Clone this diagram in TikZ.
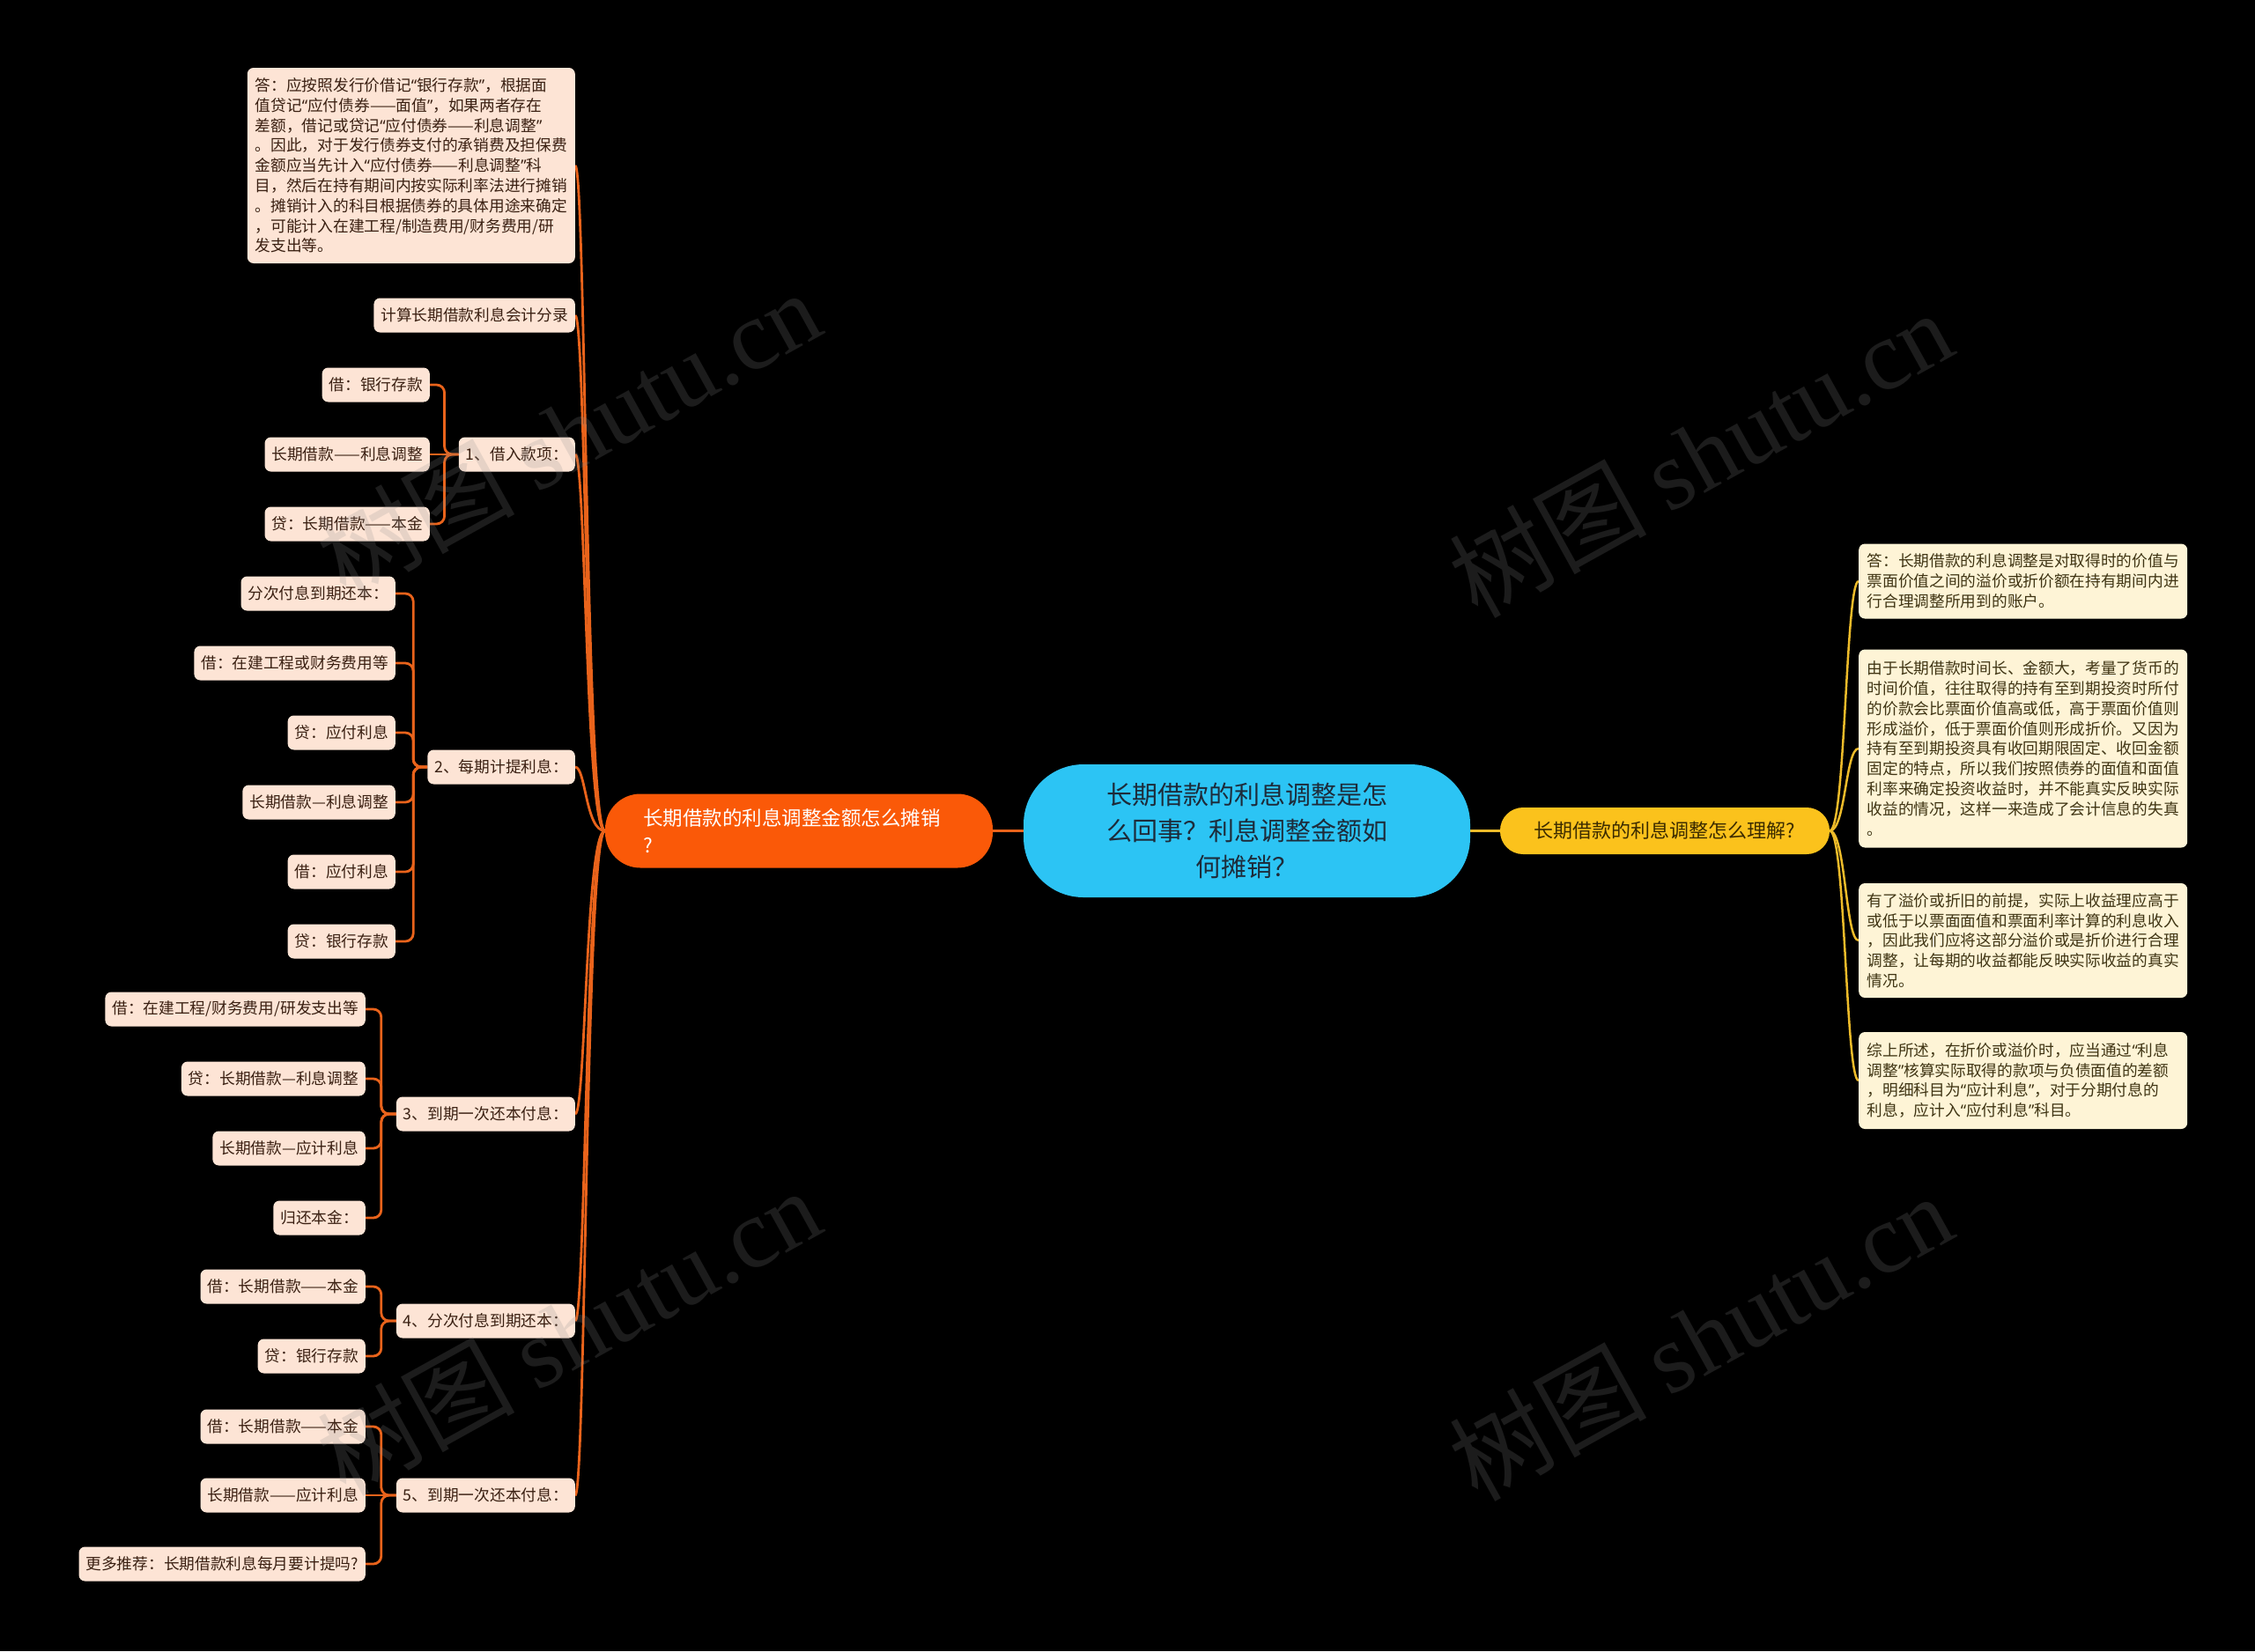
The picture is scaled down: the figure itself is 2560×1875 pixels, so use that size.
\documentclass[tikz,border=0pt]{standalone}
\usepackage{fontspec}
\setmainfont{Noto Sans CJK SC}
\newfontfamily\wmlatin{Liberation Serif}
\newfontfamily\quotefont{Noto Sans}
\newcommand\myqo{{\quotefont “}}
\newcommand\myqc{{\quotefont ”}}
\usetikzlibrary{calc}
\pgfdeclarelayer{bglayer}
\pgfsetlayers{bglayer,main}
\definecolor{peach}{HTML}{FDE4D5}
\definecolor{cream}{HTML}{FEF4D6}
\definecolor{leaftext}{HTML}{3A2012}
\definecolor{anstext}{HTML}{3F3413}
\definecolor{ocol}{HTML}{E9631B}
\definecolor{ycol}{HTML}{EDBB2A}
\definecolor{rootfill}{HTML}{2CC4F4}
\definecolor{roottext}{HTML}{1D2B3A}
\definecolor{mlfill}{HTML}{FA5908}
\definecolor{mrfill}{HTML}{FBC21C}
\definecolor{mrtext}{HTML}{3B2B00}
\begin{document}
\begin{tikzpicture}[x=1pt,y=-1pt,
  leaf/.style={fill=peach,text=leaftext,rounded corners=7pt,inner xsep=8pt,inner ysep=0pt,minimum height=39pt,font=\fontsize{17.7}{23}\selectfont,anchor=east},
  ansl/.style={fill=peach,text=leaftext,rounded corners=7pt,inner xsep=9pt,inner ysep=0pt,text width=354pt,align=left,font=\fontsize{17.7}{22.8}\selectfont,anchor=east},
  ansr/.style={fill=cream,text=anstext,rounded corners=7pt,inner xsep=9.5pt,inner ysep=0pt,text width=354pt,align=left,font=\fontsize{17.7}{22.8}\selectfont,anchor=west},
  rootn/.style={fill=rootfill,text=roottext,rounded corners=68pt,minimum width=507pt,minimum height=151pt,inner sep=0pt,align=center,font=\fontsize{29}{41}\selectfont},
  mainl/.style={fill=mlfill,text=white,rounded corners=40pt,minimum width=440pt,minimum height=84pt,inner sep=0pt,text width=354pt,align=left,font=\fontsize{22.5}{31}\selectfont},
  mainr/.style={fill=mrfill,text=mrtext,rounded corners=26pt,minimum width=374pt,minimum height=53pt,inner sep=0pt,align=center,font=\fontsize{22}{28}\selectfont},
  obr/.style={draw=ocol,line width=2.8pt},
  ybr/.style={draw=ycol,line width=2.5pt},
  elbow/.style={obr,rounded corners=9pt},
  wmark/.style={rotate=29,text=white!55!black,opacity=0.2,font=\fontsize{112}{112}\selectfont}
]
\useasboundingbox (0,0) rectangle (2560,1875);

% central and main nodes
\node[rootn] (root) at (1415.5,943.5) {长期借款的利息调整是怎\\么回事？利息调整金额如\\何摊销？};
\node[mainl] (ml) at (907,943.5) {长期借款的利息调整金额怎么摊销\\?};
\node[mainr] (mr) at (1890,943.5) {长期借款的利息调整怎么理解?};

% left level 1
\node[ansl,minimum height=222pt] (a0) at (653,188) {答：应按照发行价借记\myqo 银行存款\myqc，根据面\\值贷记\myqo 应付债券——面值\myqc，如果两者存在\\差额，借记或贷记\myqo 应付债券——利息调整\myqc\\。因此，对于发行债券支付的承销费及担保费\\金额应当先计入\myqo 应付债券——利息调整\myqc 科\\目，然后在持有期间内按实际利率法进行摊销\\。摊销计入的科目根据债券的具体用途来确定\\，可能计入在建工程/制造费用/财务费用/研\\发支出等。};
\node[leaf] (a1) at (653,358) {计算长期借款利息会计分录};
\node[leaf] (g1) at (653,516) {1、借入款项：};
\node[leaf] (g2) at (653,871) {2、每期计提利息：};
\node[leaf] (g3) at (653,1265) {3、到期一次还本付息：};
\node[leaf] (g4) at (653,1500) {4、分次付息到期还本：};
\node[leaf] (g5) at (653,1698) {5、到期一次还本付息：};

% group 1
\node[leaf] (c11) at (488,437) {借：银行存款};
\node[leaf] (c12) at (488,516) {长期借款——利息调整};
\node[leaf] (c13) at (488,595) {贷：长期借款——本金};

% group 2
\node[leaf] (c21) at (449,674) {分次付息到期还本：};
\node[leaf] (c22) at (449,753) {借：在建工程或财务费用等};
\node[leaf] (c23) at (449,832) {贷：应付利息};
\node[leaf] (c24) at (449,911) {长期借款—利息调整};
\node[leaf] (c25) at (449,990) {借：应付利息};
\node[leaf] (c26) at (449,1069) {贷：银行存款};

% group 3
\node[leaf] (c31) at (415,1146) {借：在建工程/财务费用/研发支出等};
\node[leaf] (c32) at (415,1225) {贷：长期借款—利息调整};
\node[leaf] (c33) at (415,1304) {长期借款—应计利息};
\node[leaf] (c34) at (415,1383) {归还本金：};

% group 4
\node[leaf] (c41) at (415,1461) {借：长期借款——本金};
\node[leaf] (c42) at (415,1540) {贷：银行存款};

% group 5
\node[leaf] (c51) at (415,1620) {借：长期借款——本金};
\node[leaf] (c52) at (415,1698) {长期借款——应计利息};
\node[leaf] (c53) at (415,1776) {更多推荐：长期借款利息每月要计提吗?};

% right answers
\node[ansr,minimum height=85pt] (r1) at (2110,660) {答：长期借款的利息调整是对取得时的价值与\\票面价值之间的溢价或折价额在持有期间内进\\行合理调整所用到的账户。};
\node[ansr,minimum height=225pt] (r2) at (2110,850) {由于长期借款时间长、金额大，考量了货币的\\时间价值，往往取得的持有至到期投资时所付\\的价款会比票面价值高或低，高于票面价值则\\形成溢价，低于票面价值则形成折价。又因为\\持有至到期投资具有收回期限固定、收回金额\\固定的特点，所以我们按照债券的面值和面值\\利率来确定投资收益时，并不能真实反映实际\\收益的情况，这样一来造成了会计信息的失真\\。};
\node[ansr,minimum height=130pt] (r3) at (2110,1068) {有了溢价或折旧的前提，实际上收益理应高于\\或低于以票面面值和票面利率计算的利息收入\\，因此我们应将这部分溢价或是折价进行合理\\调整，让每期的收益都能反映实际收益的真实\\情况。};
\node[ansr,minimum height=110pt] (r4) at (2110,1227) {综上所述，在折价或溢价时，应当通过\myqo 利息\\调整\myqc 核算实际取得的款项与负债面值的差额\\，明细科目为\myqo 应计利息\myqc，对于分期付息的\\利息，应计入\myqo 应付利息\myqc 科目。};

% connectors
\begin{pgfonlayer}{bglayer}
\fill[black] (0,0) rectangle (2560,1875);
\draw[obr] (ml.east) -- (root.west);
\draw[ybr] (root.east) -- (mr.west);
\foreach \c in {a0,a1,g1,g2,g3,g4,g5}
  \draw[obr] (ml.west) .. controls +(-22,0) and +(12,0) .. (\c.east);
\foreach \c in {r1,r2,r3,r4}
  \draw[ybr] (mr.east) .. controls +(18,0) and +(-15,0) .. (\c.west);
\foreach \c in {c11,c13}
  \draw[elbow] (g1.west) -- ++(-16,0) |- (\c.east);
\draw[obr] (g1.west) -- (c12.east);
\foreach \c in {c21,c22,c23,c24,c25,c26}
  \draw[elbow] (g2.west) -- ++(-16,0) |- (\c.east);
\foreach \c in {c31,c32,c33,c34}
  \draw[elbow] (g3.west) -- ++(-17,0) |- (\c.east);
\foreach \c in {c41,c42}
  \draw[elbow] (g4.west) -- ++(-17,0) |- (\c.east);
\foreach \c in {c51,c53}
  \draw[elbow] (g5.west) -- ++(-17,0) |- (\c.east);
\draw[obr] (g5.west) -- (c52.east);
\end{pgfonlayer}

% watermarks
\node[wmark] (w1) at (645,492) {树图 {\wmlatin shutu.cn}};
\node[wmark] (w2) at (1930,515) {树图 {\wmlatin shutu.cn}};
\node[wmark] (w3) at (645,1512) {树图 {\wmlatin shutu.cn}};
\node[wmark] (w4) at (1930,1518) {树图 {\wmlatin shutu.cn}};
\end{tikzpicture}
\end{document}
